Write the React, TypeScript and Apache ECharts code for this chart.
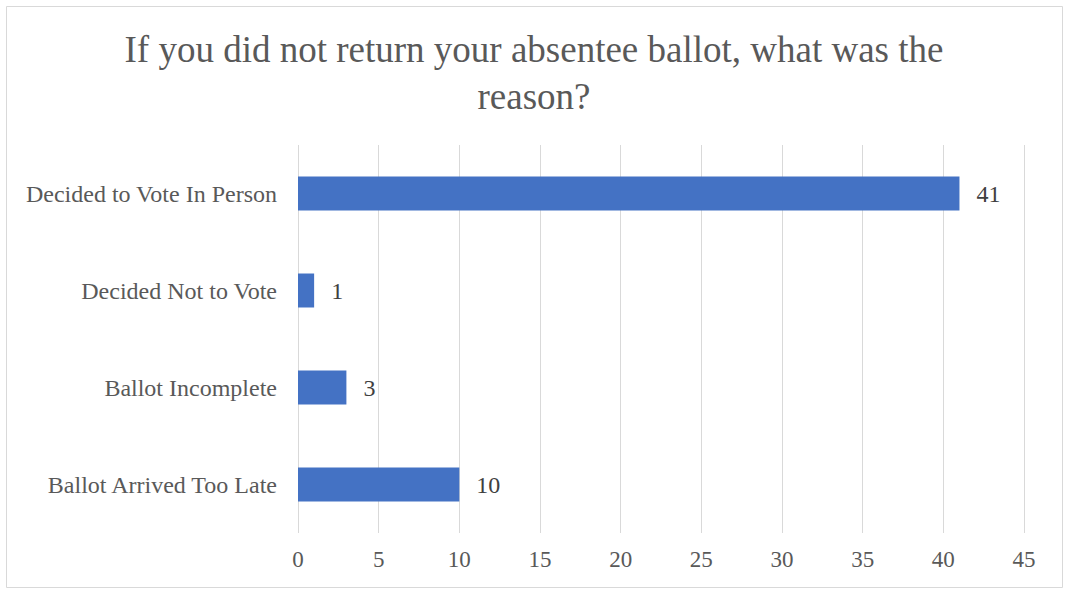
import React, { useEffect, useRef } from "react";
import * as echarts from "echarts";

const categories = [
  "Decided to Vote In Person",
  "Decided Not to Vote",
  "Ballot Incomplete",
  "Ballot Arrived Too Late",
];
const values = [41, 1, 3, 10];
const titleText = "If you did not return your absentee ballot, what was the\nreason?";

const FONT = '"Liberation Serif", "Times New Roman", serif';

export default function App() {
  const ref = useRef<HTMLDivElement>(null);
  useEffect(() => {
    if (!ref.current) return;
    const chart = echarts.init(ref.current, null, { renderer: "svg" });
    chart.setOption({
      animation: false,
      backgroundColor: "#ffffff",
      textStyle: { fontFamily: FONT },
      title: {
        text: titleText,
        left: "center",
        top: 21,
        textStyle: {
          fontFamily: FONT,
          fontSize: 37,
          fontWeight: "normal",
          color: "#595959",
          lineHeight: 47,
        },
      },
      graphic: [
        {
          type: "rect",
          shape: { x: 6.5, y: 6.5, width: 1056, height: 581 },
          style: { fill: "none", stroke: "#d9d9d9", lineWidth: 1 },
          silent: true,
        },
      ],
      grid: { left: 298, right: 44, top: 145, bottom: 57 },
      xAxis: {
        type: "value",
        min: 0,
        max: 45,
        interval: 5,
        axisLine: { show: false },
        axisTick: { show: false },
        splitLine: { show: true, lineStyle: { color: "#d9d9d9", width: 1 } },
        axisLabel: {
          fontFamily: FONT,
          fontSize: 23,
          color: "#595959",
          margin: 15,
        },
      },
      yAxis: {
        type: "category",
        data: categories,
        inverse: true,
        axisLine: { show: false },
        axisTick: { show: false },
        axisLabel: {
          fontFamily: FONT,
          fontSize: 24,
          color: "#595959",
          margin: 21,
        },
      },
      series: [
        {
          type: "bar",
          data: values,
          barWidth: 34,
          itemStyle: { color: "#4472c4" },
          label: {
            show: true,
            position: "right",
            distance: 17,
            fontFamily: FONT,
            fontSize: 24,
            color: "#404040",
          },
        },
      ],
    });
    return () => chart.dispose();
  }, []);
  return (
    <div
      ref={ref}
      style={{ position: "fixed", left: 0, top: 0, width: 1068, height: 590 }}
    />
  );
}
